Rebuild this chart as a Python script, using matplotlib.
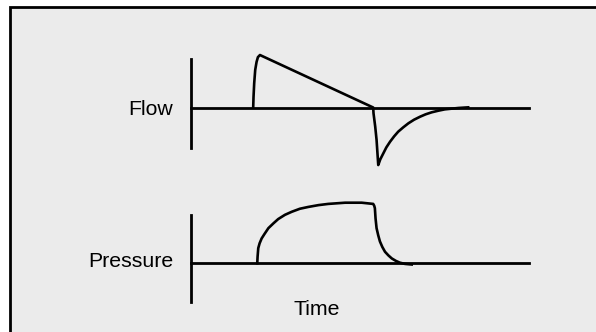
import numpy as np
import matplotlib.pyplot as plt
from matplotlib.patches import Rectangle

plt.rcParams['font.family'] = ['Liberation Sans', 'DejaVu Sans']

# time axis (arbitrary units, 0..10 across the baseline)
t_flow = [1.84, 1.85, 1.87, 1.90, 1.94, 1.98, 2.04,
          5.39, 5.40, 5.45, 5.49,
          5.54, 5.60, 5.69, 5.78, 5.89, 6.01, 6.13, 6.28, 6.43, 6.60,
          6.78, 6.94, 7.12, 7.32, 7.51, 7.71, 7.91, 8.20]
flow = [0.0, 0.20, 0.46, 0.71, 0.86, 0.95, 0.99,
        0.0, -0.11, -0.36, -0.61,
        -1.085, -0.978, -0.865, -0.752, -0.645, -0.544, -0.456, -0.374,
        -0.299, -0.230, -0.173, -0.129, -0.091, -0.060, -0.035, -0.022,
        -0.009, 0.003]

t_pres = [1.96, 1.97, 1.99, 2.03, 2.09, 2.17, 2.29, 2.44, 2.58, 2.78, 2.98,
          3.22, 3.47, 3.77, 4.06, 4.56, 5.05, 5.39,
          5.42, 5.44, 5.46, 5.49, 5.54, 5.59, 5.66, 5.74, 5.84, 5.94, 6.06,
          6.18, 6.33, 6.53]
pres = [0.0, 0.11, 0.25, 0.33, 0.41, 0.48, 0.58, 0.66, 0.73, 0.80, 0.85,
        0.90, 0.93, 0.96, 0.98, 1.0, 1.0, 0.98,
        0.95, 0.91, 0.74, 0.58, 0.46, 0.36, 0.27, 0.19, 0.13, 0.08, 0.04,
        0.01, -0.01, -0.02]

labels = ["Flow", "Pressure"]
xlabel = "Time"

W, H = 596, 332
fig = plt.figure(figsize=(W / 100, H / 100), dpi=100)
fig.patch.set_facecolor('white')
bg = '#ebebeb'

# grey panel with black frame (right and bottom edges fall off the picture)
axbg = fig.add_axes([0, 0, 1, 1], zorder=-1)
axbg.set_xlim(0, W)
axbg.set_ylim(H, 0)
axbg.axis('off')
axbg.add_patch(Rectangle((10, 7), W + 20, H + 20, facecolor=bg,
                         edgecolor='black', linewidth=2))

ax1 = fig.add_axes([191 / W, 1 - 148 / H, 338 / W, 89 / H])
ax2 = fig.add_axes([191 / W, 1 - 302 / H, 338 / W, 87 / H])

def style(ax, ylim):
    ax.set_facecolor('none')
    ax.set_xlim(0, 10)
    ax.set_ylim(*ylim)
    ax.spines['top'].set_visible(False)
    ax.spines['right'].set_visible(False)
    ax.spines['left'].set_linewidth(2.0)
    ax.spines['bottom'].set_linewidth(2.0)
    ax.spines['bottom'].set_position(('data', 0))
    ax.set_xticks([])
    ax.set_yticks([])

style(ax1, (-0.764, 0.915))
style(ax2, (-0.639, 0.797))

ax1.plot(t_flow, flow, color='black', lw=1.9, clip_on=False, solid_joinstyle='round')
ax2.plot(t_pres, pres, color='black', lw=1.9, clip_on=False, solid_joinstyle='round')

ax1.text(-0.053, 0.371, labels[0], transform=ax1.transAxes, ha='right',
         va='baseline', fontsize=15.3)
ax2.text(-0.053, 0.408, labels[1], transform=ax2.transAxes, ha='right',
         va='baseline', fontsize=15.3)
ax2.text(0.371, -0.149, xlabel, transform=ax2.transAxes, ha='center',
         va='baseline', fontsize=15.3)

fig.savefig('out.png', dpi=100)
